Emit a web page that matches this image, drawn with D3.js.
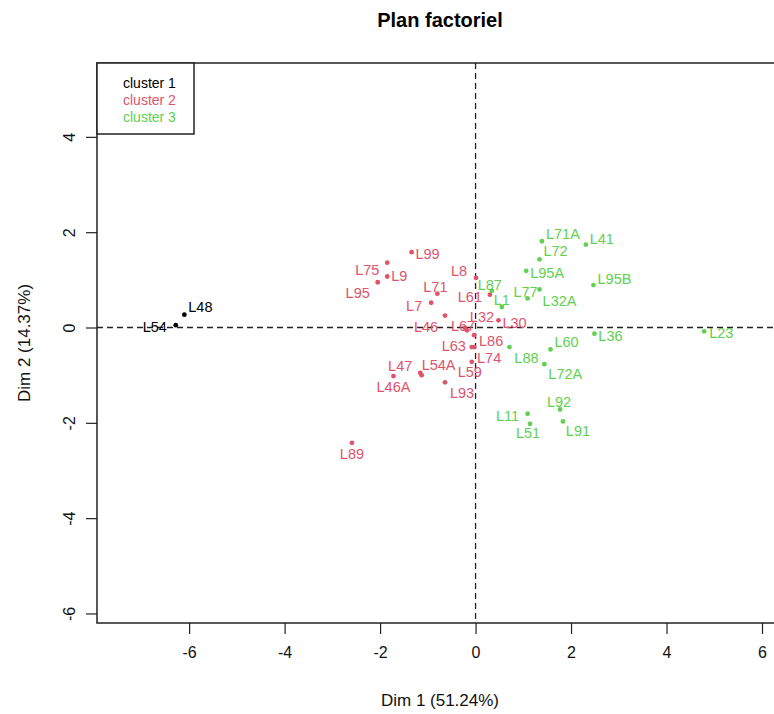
<!DOCTYPE html>
<html>
<head>
<meta charset="utf-8">
<script src="https://cdn.jsdelivr.net/npm/d3@7"></script>
<style>
  body { margin: 0; background: #fff; }
  text { font-family: "Liberation Sans", Arial, sans-serif; }
</style>
</head>
<body>
<div id="plan"></div>
<script>
// individus (coordonnees sur Dim 1 / Dim 2) et cluster
const names = ["L48", "L54",
  "L99", "L75", "L9", "L95", "L71", "L7", "L8", "L61", "L46", "L67", "L32", "L30", "L86", "L63", "L74", "L59", "L47", "L54A", "L46A", "L93", "L89",
  "L71A", "L41", "L72", "L95A", "L95B", "L87", "L77", "L32A", "L1", "L36", "L23", "L88", "L60", "L72A", "L92", "L11", "L51", "L91"];
const dim1 = [-6.10, -6.28,
  -1.34, -1.85, -1.85, -2.05, -0.80, -0.93, 0.01, 0.30, -0.64, -0.22, -0.18, 0.48, -0.03, -0.08, -0.03, -0.08, -1.16, -1.13, -1.72, -0.64, -2.59,
  1.39, 2.31, 1.34, 1.06, 2.47, 0.34, 1.09, 1.34, 0.55, 2.49, 4.79, 0.71, 1.57, 1.44, 1.77, 1.09, 1.14, 1.83];
const dim2 = [0.27, 0.05,
  1.58, 1.36, 1.07, 0.95, 0.71, 0.52, 1.04, 0.69, 0.25, -0.01, -0.06, 0.15, -0.16, -0.41, -0.41, -0.72, -0.95, -1.00, -1.02, -1.15, -2.42,
  1.81, 1.74, 1.43, 1.19, 0.89, 0.77, 0.61, 0.80, 0.43, -0.13, -0.08, -0.41, -0.46, -0.77, -1.72, -1.81, -2.02, -1.97];
const cluster = [1, 1,
  2, 2, 2, 2, 2, 2, 2, 2, 2, 2, 2, 2, 2, 2, 2, 2, 2, 2, 2, 2, 2,
  3, 3, 3, 3, 3, 3, 3, 3, 3, 3, 3, 3, 3, 3, 3, 3, 3, 3];

const clusterNames = ["cluster 1", "cluster 2", "cluster 3"];
const xTicks = [-6, -4, -2, 0, 2, 4, 6];
const yTicks = [-6, -4, -2, 0, 2, 4];
const xTitle = "Dim 1 (51.24%)";
const yTitle = "Dim 2 (14.37%)";
const title = "Plan factoriel";

// placement des etiquettes (decalage en px du centre du texte)
const labelShift = {
  L48: [16, -8], L54: [-21, 2],
  L99: [16, 2], L75: [-20, 7], L9: [12, -1], L95: [-20, 11], L71: [-2, -7], L7: [-17, 3],
  L8: [-17, -7], L61: [-20, 2], L46: [-19, 11], L67: [-2, -2], L32: [15, -13], L30: [16, 3],
  L86: [17, 6], L63: [-18, -1], L74: [15, 11], L59: [-2, 10], L47: [-20, -7], L54A: [17, -10],
  L46A: [0, 11], L93: [17, 11], L89: [0, 11],
  L71A: [21, -7], L41: [16, -6], L72: [16, -8], L95A: [21, 2], L95B: [21, -6], L87: [-2, -6],
  L77: [-2, -6], L32A: [20, 12], L1: [0, -7], L36: [16, 2], L23: [17, 2], L88: [17, 11],
  L60: [16, -7], L72A: [21, 10], L92: [-1, -7], L11: [-20, 2], L51: [-2, 9], L91: [15, 10]
};

class Plan {
  constructor(config) {
    this.config = config;
    this.svg = null;
    this.xScale = null;
    this.yScale = null;
    this.points = names.map((n, i) => ({ name: n, x: dim1[i], y: dim2[i], cl: cluster[i] }));
    this.color = d3.scaleOrdinal().domain([1, 2, 3]).range(["#000000", "#DF536B", "#61D04F"]);

    this.createSvg();
  }

  createSvg() {
    this.svg = d3.select(this.config.div)
      .append("svg")
      .attr("width", this.config.width)
      .attr("height", this.config.height);
    this.svg.append("rect")
      .attr("width", this.config.width)
      .attr("height", this.config.height)
      .attr("fill", "#fff");
  }

  createScales() {
    let c = this.config;
    this.xScale = d3.scaleLinear().domain([-7.93, 6.44]).range([c.left, c.right]);
    this.yScale = d3.scaleLinear().domain([-6.2, 5.55]).range([c.bottom, c.top]);
  }

  createAxis() {
    let c = this.config;
    // R ecrit les negatifs avec un simple tiret
    let fmt = d => String(d);
    let xAxis = d3.axisBottom(this.xScale).tickValues(xTicks).tickSize(11).tickPadding(13).tickFormat(fmt);
    let yAxis = d3.axisLeft(this.yScale).tickValues(yTicks).tickSize(11).tickPadding(13).tickFormat(fmt);

    let gx = this.svg.append("g")
      .attr("transform", `translate(0,${c.bottom})`)
      .call(xAxis);
    gx.select(".domain").remove();
    gx.selectAll("line").attr("stroke", "#222").attr("stroke-width", 1.2);
    gx.selectAll("text").attr("font-size", 16).attr("fill", "#111")
      .attr("font-family", "'Liberation Sans', Arial, sans-serif");

    let gy = this.svg.append("g")
      .attr("transform", `translate(${c.left},0)`)
      .call(yAxis);
    gy.select(".domain").remove();
    gy.selectAll("line").attr("stroke", "#222").attr("stroke-width", 1.2);
    gy.selectAll("text")
      .attr("font-size", 16).attr("fill", "#111")
      .attr("font-family", "'Liberation Sans', Arial, sans-serif")
      .attr("text-anchor", "middle")
      .attr("dy", null)
      .attr("x", null)
      .attr("transform", "translate(-26,0) rotate(-90)")
      .attr("dominant-baseline", "middle");

    // lignes pointillees a zero
    this.svg.append("line")
      .attr("x1", c.left).attr("x2", c.right)
      .attr("y1", this.yScale(0)).attr("y2", this.yScale(0))
      .attr("stroke", "#222").attr("stroke-width", 1.3).attr("stroke-dasharray", "6,4");
    this.svg.append("line")
      .attr("x1", this.xScale(0)).attr("x2", this.xScale(0))
      .attr("y1", c.top).attr("y2", c.bottom)
      .attr("stroke", "#222").attr("stroke-width", 1.3).attr("stroke-dasharray", "6,4");

    // cadre
    this.svg.append("rect")
      .attr("x", c.left).attr("y", c.top)
      .attr("width", c.right - c.left).attr("height", c.bottom - c.top)
      .attr("fill", "none").attr("stroke", "#222").attr("stroke-width", 1.5);
  }

  renderPoints() {
    this.svg.selectAll("circle.ind")
      .data(this.points)
      .enter()
      .append("circle")
      .attr("class", "ind")
      .attr("cx", d => this.xScale(d.x))
      .attr("cy", d => this.yScale(d.y))
      .attr("r", 2.4)
      .attr("fill", d => this.color(d.cl));

    this.svg.selectAll("text.ind")
      .data(this.points)
      .enter()
      .append("text")
      .attr("class", "ind")
      .attr("x", d => this.xScale(d.x) + (labelShift[d.name] || [0, -8])[0])
      .attr("y", d => this.yScale(d.y) + (labelShift[d.name] || [0, -8])[1])
      .attr("text-anchor", "middle")
      .attr("dominant-baseline", "central")
      .attr("font-size", 14.5)
      .attr("fill", d => this.color(d.cl))
      .text(d => d.name);
  }

  renderLabels() {
    let c = this.config;
    let mid = (c.left + c.right) / 2;
    this.svg.append("text")
      .attr("x", mid).attr("y", 27)
      .attr("text-anchor", "middle")
      .attr("font-size", 20).attr("font-weight", "bold")
      .text(title);

    this.svg.append("text")
      .attr("x", mid).attr("y", 706)
      .attr("text-anchor", "middle")
      .attr("font-size", 17).attr("fill", "#111")
      .text(xTitle);

    this.svg.append("text")
      .attr("transform", `translate(24,${(c.top + c.bottom) / 2}) rotate(-90)`)
      .attr("text-anchor", "middle")
      .attr("dominant-baseline", "central")
      .attr("font-size", 17).attr("fill", "#111")
      .text(yTitle);
  }

  renderLegend() {
    let c = this.config;
    let g = this.svg.append("g");
    g.append("rect")
      .attr("x", c.left).attr("y", c.top)
      .attr("width", 97).attr("height", 71)
      .attr("fill", "#fff").attr("stroke", "#222").attr("stroke-width", 1.5);
    g.selectAll("text")
      .data(clusterNames)
      .enter()
      .append("text")
      .attr("x", c.left + 26)
      .attr("y", (d, i) => c.top + 20 + i * 17)
      .attr("dominant-baseline", "central")
      .attr("font-size", 14)
      .attr("fill", (d, i) => this.color(i + 1))
      .text(d => d);
  }
}

function main() {
  let c = { div: "#plan", width: 774, height: 714, left: 97, right: 783, top: 63, bottom: 623 };
  let plotter = new Plan(c);
  plotter.createScales();
  plotter.createAxis();
  plotter.renderPoints();
  plotter.renderLabels();
  plotter.renderLegend();
}

main();
</script>
</body>
</html>
